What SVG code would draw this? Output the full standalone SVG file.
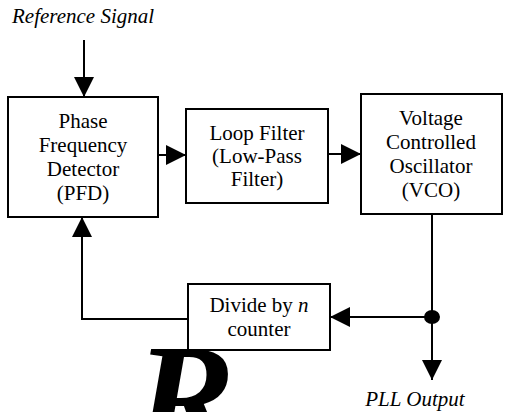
<svg xmlns="http://www.w3.org/2000/svg" width="507" height="412" viewBox="0 0 507 412">
<style>
.box{fill:#fff;stroke:#000;stroke-width:2}
.t{font-family:"Liberation Serif","Times New Roman",serif;font-size:21px;fill:#000;text-anchor:middle}
.it{font-family:"Liberation Serif","Times New Roman",serif;font-size:21px;font-style:italic;fill:#000}
.ln{fill:none;stroke:#000;stroke-width:2}
.wm{font-family:"Liberation Serif","Times New Roman",serif;font-size:150px;font-style:italic;font-weight:bold;fill:#000}
</style>
<defs>
<marker id="ah" markerWidth="20" markerHeight="20" viewBox="0 0 20 20" refX="20" refY="10" orient="auto" markerUnits="userSpaceOnUse">
<path d="M0,0 L20,10 L0,20 Z" fill="#000"/>
</marker>
</defs>
<rect width="507" height="412" fill="#fff"/>
<text class="wm" x="135" y="448">R</text>
<g id="connectors">
<line class="ln" x1="84" y1="40" x2="84" y2="97" marker-end="url(#ah)"/>
<line class="ln" x1="158" y1="155" x2="186" y2="155" marker-end="url(#ah)"/>
<line class="ln" x1="328" y1="154" x2="361" y2="154" marker-end="url(#ah)"/>
<line class="ln" x1="432" y1="214" x2="432" y2="380" marker-end="url(#ah)"/>
<line class="ln" x1="432" y1="317" x2="330" y2="317" marker-end="url(#ah)"/>
<polyline class="ln" points="188,319 82,319 82,217" marker-end="url(#ah)"/>
<ellipse cx="432" cy="317" rx="8" ry="7" fill="#000"/>
</g>
<g id="pfd">
<rect class="box" x="8" y="97" width="150" height="120"/>
<text class="t" x="83" y="128">Phase</text>
<text class="t" x="83" y="152">Frequency</text>
<text class="t" x="83" y="176">Detector</text>
<text class="t" x="83" y="200">(PFD)</text>
</g>
<g id="loopfilter">
<rect class="box" x="186" y="109" width="142" height="94"/>
<text class="t" x="257" y="140">Loop Filter</text>
<text class="t" x="257" y="163">(Low-Pass</text>
<text class="t" x="257" y="186">Filter)</text>
</g>
<g id="vco">
<rect class="box" x="361" y="94" width="141" height="120"/>
<text class="t" x="431" y="125">Voltage</text>
<text class="t" x="431" y="149">Controlled</text>
<text class="t" x="431" y="173">Oscillator</text>
<text class="t" x="431" y="197">(VCO)</text>
</g>
<g id="divider">
<rect class="box" x="188" y="284" width="142" height="66"/>
<text class="t" x="259" y="312">Divide by <tspan font-style="italic">n</tspan></text>
<text class="t" x="259" y="336">counter</text>
</g>
<g id="labels">
<text class="it" x="12" y="23">Reference Signal</text>
<text class="it" x="415" y="406" text-anchor="middle">PLL Output</text>
</g>
</svg>
